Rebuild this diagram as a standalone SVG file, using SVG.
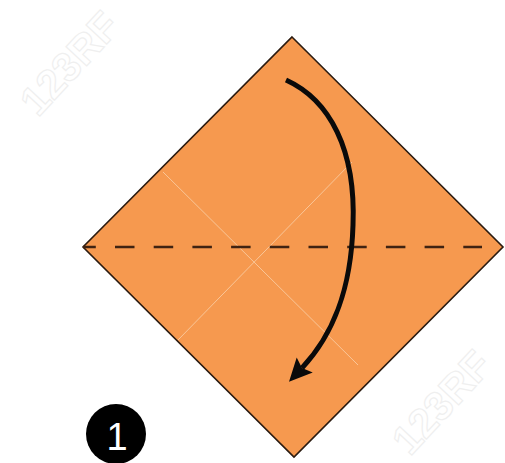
<svg xmlns="http://www.w3.org/2000/svg" width="505" height="463" viewBox="0 0 505 463">
  <style>
    .paper { fill: #f6994f; stroke: #2b1b10; stroke-width: 1.6; stroke-linejoin: miter; }
    .fold { fill: none; stroke: #3f2312; stroke-width: 2.4; stroke-dasharray: 19.5 19.2; stroke-dashoffset: 6.7; }
    .crease { stroke: #fbd2ab; stroke-width: 1; opacity: 0.8; }
    .arrow { fill: none; stroke: #0a0a0a; stroke-width: 5; stroke-linecap: butt; }
    .wm { fill: none; stroke: #efefef; stroke-width: 1.2; font-family: "Liberation Sans", Arial, sans-serif; font-weight: bold; font-size: 41px; }
    .num { fill: #ffffff; font-family: "Liberation Sans", Arial, sans-serif; font-size: 38px; }
  </style>
  <defs>
    <marker id="head" markerUnits="userSpaceOnUse" markerWidth="24" markerHeight="24" viewBox="0 0 24 24" refX="4" refY="12" orient="auto">
      <path d="M0,1 L23,12 L0,23 L4,12 z" fill="#0a0a0a"/>
    </marker>
  </defs>
  <rect width="505" height="463" fill="#ffffff"/>
  <g id="watermarks">
    <text class="wm" x="0" y="0" transform="translate(38,118) rotate(-47)">123RF</text>
    <text class="wm" x="0" y="0" transform="translate(410,457) rotate(-47)">123RF</text>
  </g>
  <g id="paper">
    <polygon class="paper" points="292,37 503,247 294,457 83,247"/>
    <line class="crease" x1="163" y1="172" x2="358" y2="365"/>
    <line class="crease" x1="352" y1="162" x2="178" y2="340"/>
  </g>
  <g id="connectors">
    <line id="fold-line" class="fold" x1="83" y1="247" x2="482" y2="247"/>
    <path id="fold-arrow" class="arrow" d="M286,80 C330,100 356,150 353,225 C351,292 332,336 302,368" marker-end="url(#head)"/>
  </g>
  <g id="step-1">
    <circle cx="116" cy="434" r="30" fill="#000000"/>
    <text class="num" x="117" y="450" text-anchor="middle">1</text>
  </g>
</svg>
